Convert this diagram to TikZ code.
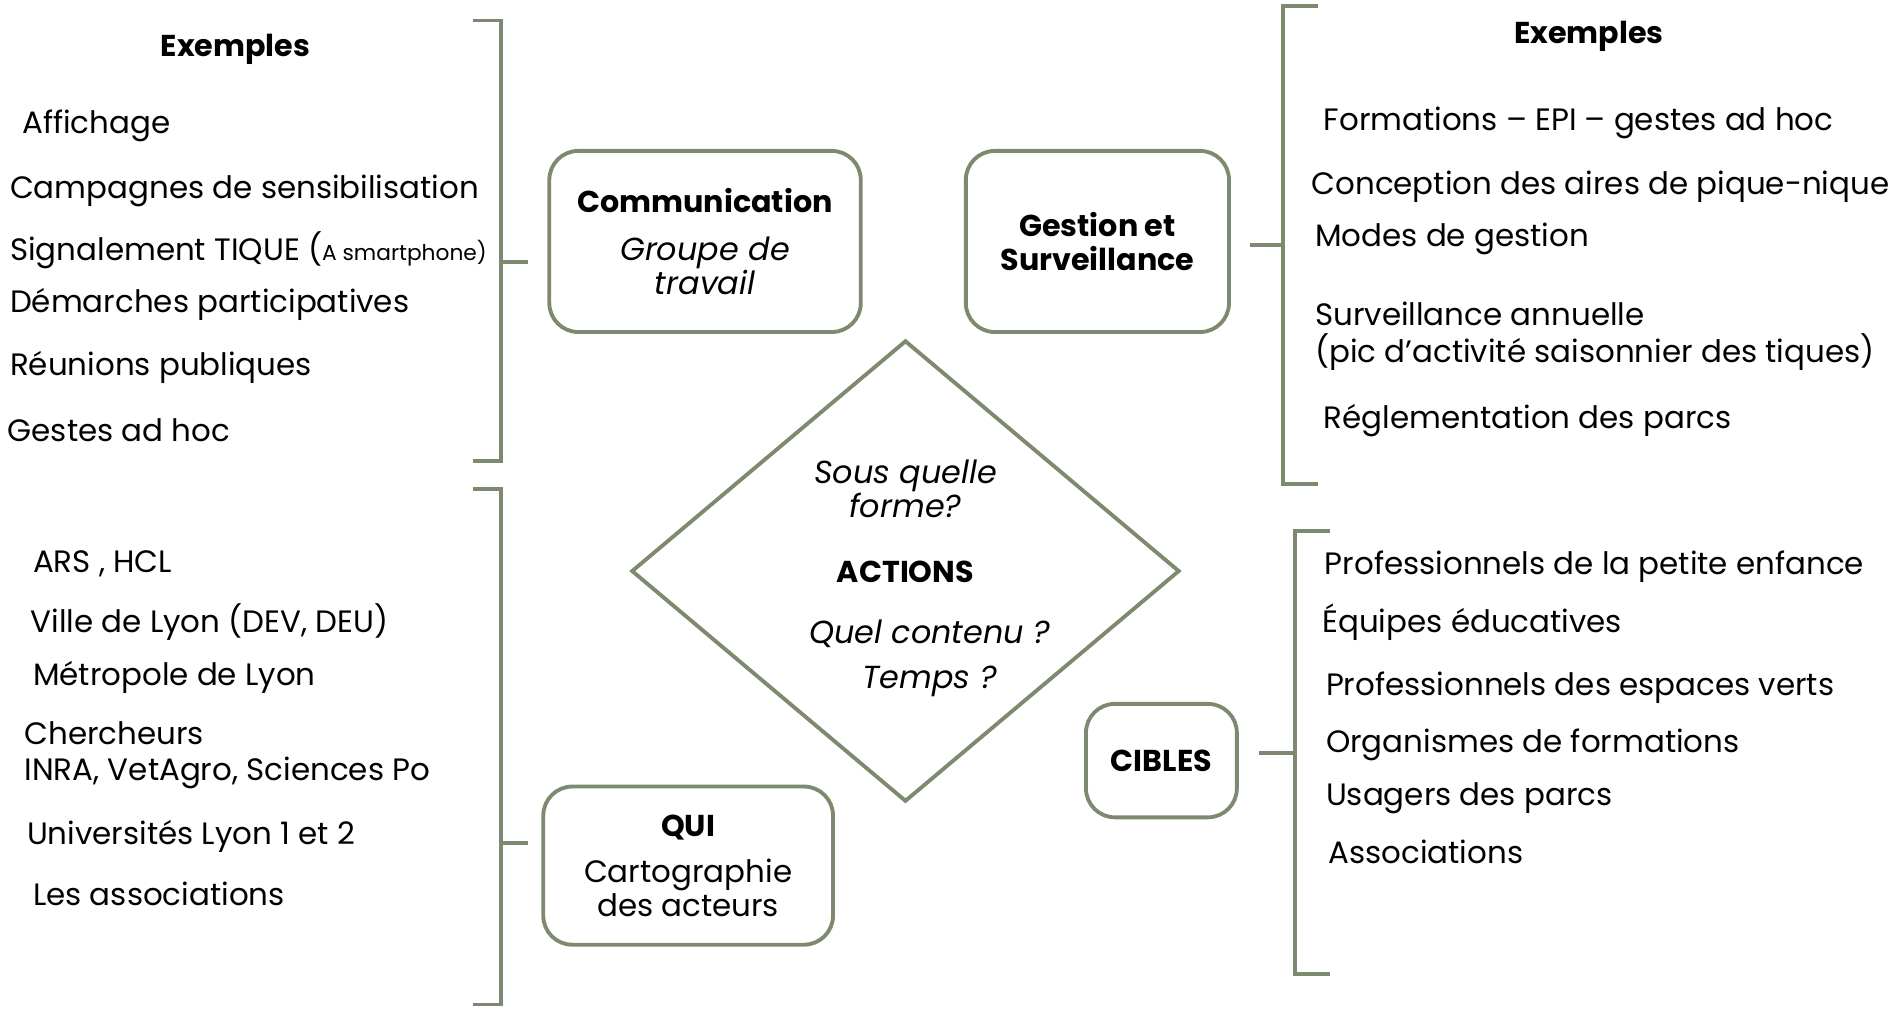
\documentclass[tikz,border=0pt]{standalone}
\usepackage{fontspec}
\setmainfont{Poppins}
\usepackage{tikz}
\usetikzlibrary{shapes.geometric}
\definecolor{sage}{HTML}{7E8A70}
\newcommand{\itx}{\fontsize{13.2pt}{14pt}\selectfont\itshape}

\begin{document}
\begin{tikzpicture}[x=0.5pt,y=-0.5pt,font=\fontsize{12.8pt}{14pt}\selectfont,
    box/.style={draw=sage, line width=1.6pt, rounded corners=12pt, align=center, inner sep=0pt},
    item/.style={anchor=west, inner sep=0pt, yshift=-1.5pt},
    head/.style={font=\fontsize{12.5pt}{14pt}\selectfont\bfseries},
    brace/.style={draw=sage, line width=1.6pt}]
      \useasboundingbox (0,0) rectangle (1568,836);
      % boxes
      \node[box, minimum width=129pt, minimum height=75pt] (com) at (584,200)
        {\textbf{\fontsize{12.5pt}{14pt}\selectfont Communication}\\[6pt] {\itx Groupe de}\\ {\itx travail}};
      \node[box, head, minimum width=109pt, minimum height=75pt] (ges) at (909,200)
        {Gestion et\\ Surveillance};
      \node[box, minimum width=120pt, minimum height=65.5pt] (qui) at (570,717)
        {\textbf{\fontsize{12.5pt}{14pt}\selectfont QUI}\\[5pt] Cartographie\\ des acteurs};
      \node[box, head, minimum width=62.5pt, minimum height=47pt] (cib) at (962,630)
        {CIBLES};
      \node[draw=sage, line width=1.6pt, diamond, aspect=1.19, inner sep=0pt,
        minimum width=227pt, minimum height=191pt] (act) at (750,473) {};
      \node[align=center, font=\itx] (a1) at (750,405) {Sous quelle\\ forme?};
      \node[head, yshift=-1pt] (a2) at (750,472) {ACTIONS};
      \node[font=\itx] (a3) at (770,525) {Quel contenu ?};
      \node[font=\itx] (a4) at (770,564) {Temps ?};
      % brackets
      \draw[brace] (392,17) -- (415,17) -- (415,382) -- (392,382);
      \draw[brace] (392,405) -- (415,405) -- (415,832) -- (392,832);
      \draw[brace] (1092,5) -- (1063,5) -- (1063,401) -- (1092,401);
      \draw[brace] (1102,440) -- (1073,440) -- (1073,807) -- (1102,807);
      \coordinate (b1) at (415,217);  \coordinate (t1) at (437,217);
      \coordinate (b2) at (415,698);  \coordinate (t2) at (437,698);
      \coordinate (b3) at (1063,203); \coordinate (t3) at (1035,203);
      \coordinate (b4) at (1073,624); \coordinate (t4) at (1043,624);
      \draw[brace] (b1) -- (t1);
      \draw[brace] (b2) -- (t2);
      \draw[brace] (b3) -- (t3);
      \draw[brace] (b4) -- (t4);
      % exemples (communication)
      \node[head, yshift=-1.5pt] (e0) at (195,38) {Exemples};
      \node[item] (e1) at (18,101) {Affichage};
      \node[item] (e2) at (8,155) {Campagnes de sensibilisation};
      \node[item] (e3) at (8,204) {Signalement TIQUE ({\fontsize{9pt}{10pt}\selectfont A smartphone)}};
      \node[item] (e4) at (8,249) {Démarches participatives};
      \node[item] (e5) at (8,301) {Réunions publiques};
      \node[item] (e6) at (6,353) {Gestes ad hoc};
      % exemples (gestion)
      \node[head, yshift=-1.5pt] (g0) at (1316,27) {Exemples};
      \node[item] (g1) at (1096,99) {Formations – EPI – gestes ad hoc};
      \node[item] (g2) at (1086,152) {Conception des aires de pique-nique};
      \node[item] (g3) at (1089,195) {Modes de gestion};
      \node[item] (g4) at (1089,257) {Surveillance annuelle};
      \node[item] (g5) at (1089,289) {(pic d’activité saisonnier des tiques)};
      \node[item] (g6) at (1096,345) {Réglementation des parcs};
      % acteurs
      \node[item] (q1) at (27,464) {ARS , HCL};
      \node[item] (q2) at (25,512) {Ville de Lyon (DEV, DEU)};
      \node[item] (q3) at (27,558) {Métropole de Lyon};
      \node[item] (q4) at (20,604) {Chercheurs};
      \node[item] (q5) at (20,637) {INRA, VetAgro, Sciences Po};
      \node[item] (q6) at (22,690) {Universités Lyon 1 et 2};
      \node[item] (q7) at (27,737) {Les associations};
      % cibles
      \node[item] (c1) at (1097,466) {Professionnels de la petite enfance};
      \node[item] (c2) at (1095,512) {Équipes éducatives};
      \node[item] (c3) at (1098,567) {Professionnels des espaces verts};
      \node[item] (c4) at (1098,614) {Organismes de formations};
      \node[item] (c5) at (1098,658) {Usagers des parcs};
      \node[item] (c6) at (1100,703) {Associations};
    \end{tikzpicture}
\end{document}
